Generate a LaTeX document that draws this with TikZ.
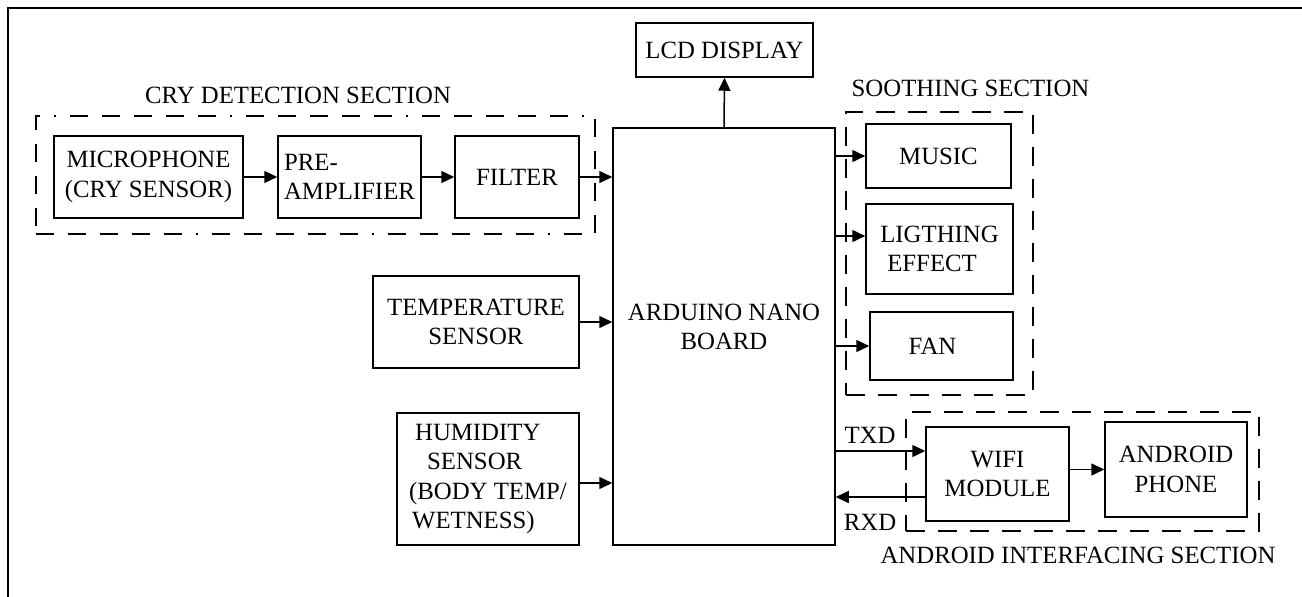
\documentclass[tikz,border=0pt]{standalone}
\usepackage{fontspec}
\setmainfont{Liberation Serif}
\usetikzlibrary{arrows.meta}
\newcommand\dfont{\fontsize{24.8pt}{29.5pt}\selectfont}
\begin{document}
\begin{tikzpicture}[x=1pt,y=-1pt,
  every node/.style={font=\dfont, inner sep=0pt},
  box/.style={draw, line width=1.5pt, align=center},
  group/.style={draw, line width=1.5pt, dash pattern=on 19pt off 13pt},
  crygroup/.style={draw, line width=1.5pt, dash pattern=on 18pt off 14pt on 18pt off 14pt on 18pt off 14pt on 18pt off 14pt on 18pt off 14pt on 2pt off 14pt},
  arr/.style={line width=1.5pt, -{Triangle[length=13pt,width=12pt]}},
  frame/.style={line width=2.4pt}]
\useasboundingbox (0,0) rectangle (1302,597);
\fill[white] (0,0) rectangle (1302,597);
% outer frame (left and top edges)
\draw[frame] (8,597) -- (8,8) -- (1302,8);

% group boxes
\node[crygroup, minimum width=559pt, minimum height=118pt] (crybox) at (315.5,175) {};
\node[group, minimum width=187pt, minimum height=283pt] (soothbox) at (939.5,253.5) {};
\node[group, minimum width=353pt, minimum height=119pt] (ifacebox) at (1082.5,471.5) {};

% group labels
\node (crylbl) at (298,95) {CRY DETECTION SECTION};
\node (soothlbl) at (970.5,88) {SOOTHING SECTION};
\node (ifacelbl) at (1078,555) {ANDROID INTERFACING SECTION};

% blocks
\node[box, minimum width=177pt, minimum height=54pt] (lcd) at (724.5,50) {LCD DISPLAY};
\node[box, minimum width=189pt, minimum height=82pt] (mic) at (148.5,177) {MICROPHONE\\(CRY SENSOR)};
\node[box, minimum width=143pt, minimum height=82pt, align=left] (pre) at (349.5,177) {PRE-\\AMPLIFIER};
\node[box, minimum width=124pt, minimum height=82pt] (filter) at (517,177) {FILTER};
\node[box, minimum width=222pt, minimum height=417pt] (ard) at (724,336.5) {};
\node[align=center] (ardtxt) at (724,327) {ARDUINO NANO\\BOARD};
\node[box, minimum width=206pt, minimum height=92pt] (temp) at (476,322) {TEMPERATURE\\SENSOR};
\node[box, minimum width=182pt, minimum height=132pt, align=left] (hum) at (488,479)
  {\hspace*{6pt}HUMIDITY\\\hspace*{18pt}SENSOR\\(BODY TEMP/\\\hspace*{3pt}WETNESS)};
\node[box, minimum width=145pt, minimum height=64pt] (music) at (938.5,156) {MUSIC};
\node[box, minimum width=147pt, minimum height=90pt, align=left] (light) at (939.5,249) {LIGTHING\\\hspace*{7pt}EFFECT};
\node[box, minimum width=143pt, minimum height=68pt] (fan) at (941.5,346) {FAN\hspace*{18pt}};
\node[box, minimum width=143pt, minimum height=94pt] (wifi) at (997.5,474) {WIFI\\MODULE};
\node[box, minimum width=142pt, minimum height=95pt] (android) at (1176,469.5) {ANDROID\\PHONE};

% signal labels
\node (txd) at (870,435) {TXD};
\node (rxd) at (870,522) {RXD};

% connector end points
\coordinate (humout) at ([yshift=-4pt]hum.east);
\coordinate (lightin) at ([yshift=13pt]light.west);
\coordinate (txin) at ([yshift=23pt]wifi.west);
\coordinate (rxout) at ([yshift=-23pt]wifi.west);

% connectors
\draw[arr] (mic) -- (pre);
\draw[arr] (pre) -- (filter);
\draw[arr] (filter) -- (filter -| ard.west);
\draw[arr] (temp) -- (temp -| ard.west);
\draw[arr] (humout) -- (humout -| ard.west);
\draw[arr] (ard.north) -- (lcd.south);
\draw[arr] (ard.east |- music.west) -- (music.west);
\draw[arr] (ard.east |- lightin) -- (lightin);
\draw[arr] (ard.east |- fan.west) -- (fan.west);
\draw[arr] (ard.east |- txin) -- (txin);
\draw[arr] (rxout) -- (ard.east |- rxout);
\draw[arr] (wifi.east |- android.west) -- (android.west);
\end{tikzpicture}
\end{document}
